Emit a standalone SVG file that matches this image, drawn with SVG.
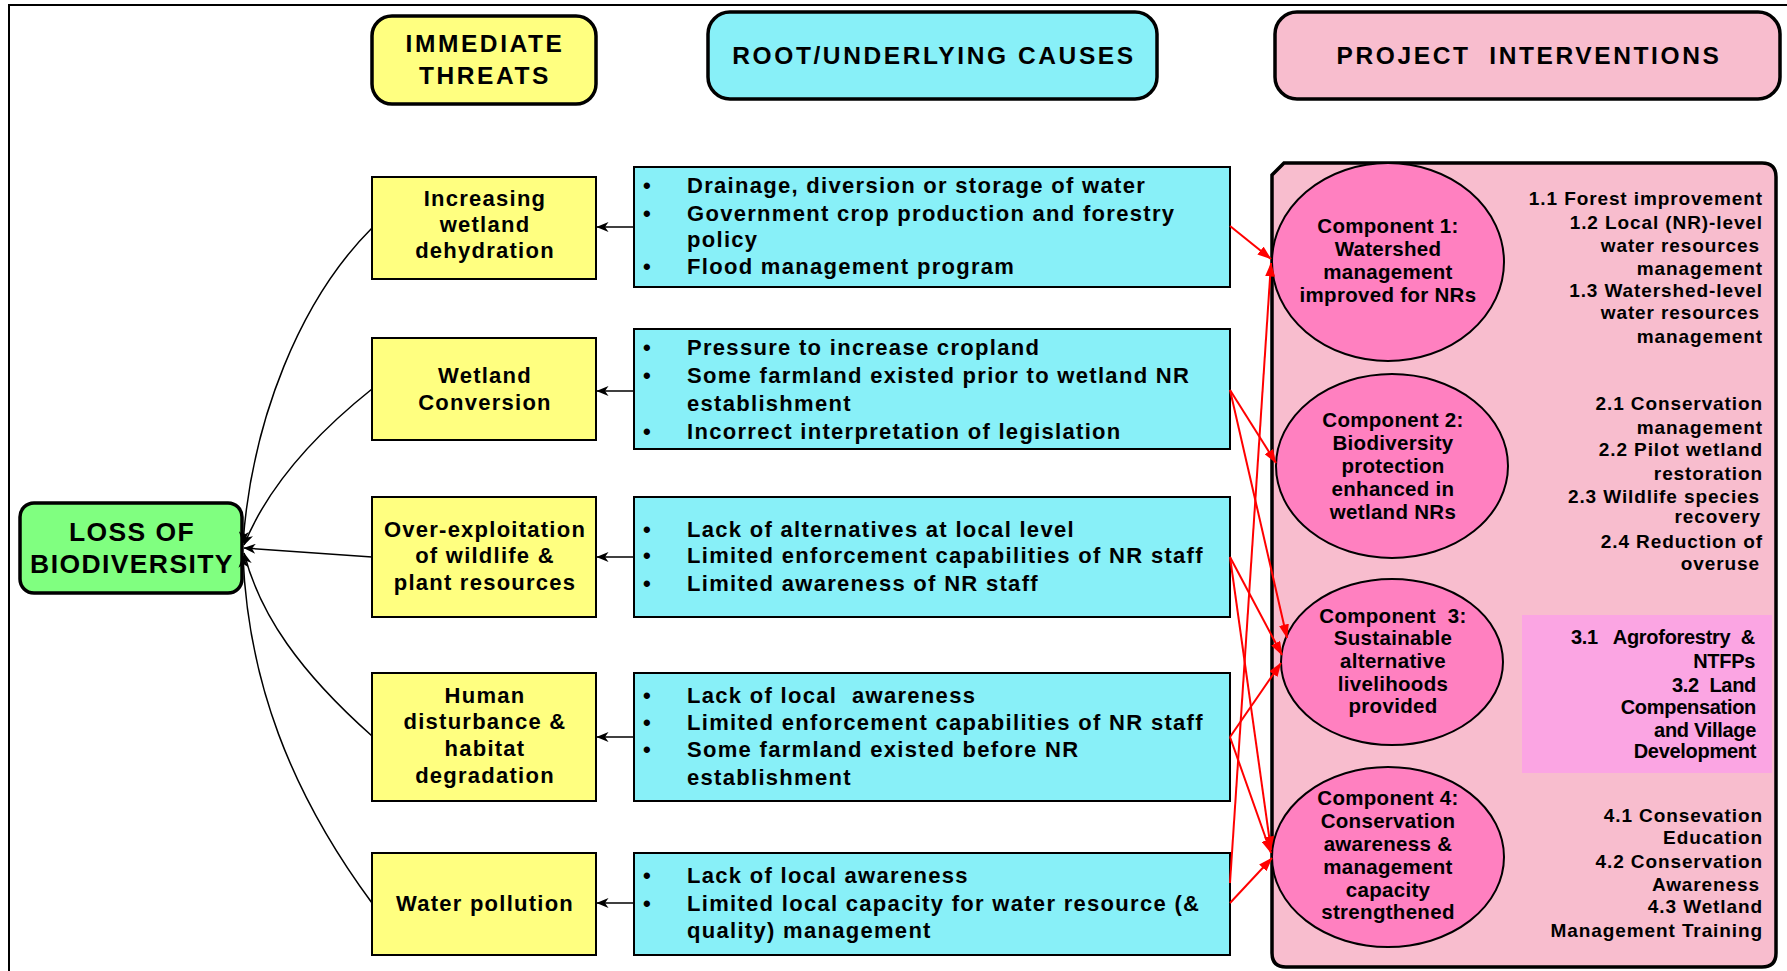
<svg xmlns="http://www.w3.org/2000/svg" width="1787" height="971" viewBox="0 0 1787 971">
<defs>
<style>
text{font-family:'Liberation Sans',Arial,Helvetica,sans-serif;font-weight:bold;fill:#000}
.hd{font-size:24.5px;letter-spacing:2.6px;text-anchor:middle}
.ls{font-size:26.5px;letter-spacing:1.4px;text-anchor:middle}
.yt{font-size:22px;letter-spacing:1.25px;text-anchor:middle}
.ct{font-size:22px;letter-spacing:1.3px}
.et{font-size:20.5px;letter-spacing:0.3px;text-anchor:middle}
.rt{font-size:19px;letter-spacing:0.9px;text-anchor:end}
.r3{font-size:20px;letter-spacing:-0.3px;text-anchor:end}
.ybox{fill:#FFFF80;stroke:#000;stroke-width:2}
.cbox{fill:#88F0F8;stroke:#000;stroke-width:2}
.ell{fill:#FF80C0;stroke:#000;stroke-width:2}
.blk{fill:none;stroke:#000;stroke-width:1.5;marker-end:url(#ab)}
.red{fill:none;stroke:#FF0000;stroke-width:2;marker-end:url(#ar)}
</style>
<marker id="ab" viewBox="0 0 12 10" refX="11.5" refY="5" markerWidth="12" markerHeight="10" markerUnits="userSpaceOnUse" orient="auto"><path d="M0,0 L12,5 L0,10 L3.5,5 Z" fill="#000"/></marker>
<marker id="ar" viewBox="0 0 14 10" refX="13.5" refY="5" markerWidth="14" markerHeight="10" markerUnits="userSpaceOnUse" orient="auto"><path d="M0,0 L14,5 L0,10 Z" fill="#FF0000"/></marker>
</defs>
<rect x="0" y="0" width="1787" height="971" fill="#FFFFFF"/>
<rect x="9" y="5" width="1800" height="1000" fill="none" stroke="#000" stroke-width="2"/>

<g id="hdr-threats">
<rect x="372" y="16" width="224" height="88" rx="20" fill="#FFFF80" stroke="#000" stroke-width="3.5"/>
<text class="hd" x="485" y="52">IMMEDIATE</text>
<text class="hd" x="485" y="84">THREATS</text>
</g>
<g id="hdr-causes">
<rect x="708" y="12" width="449" height="87" rx="22" fill="#88F0F8" stroke="#000" stroke-width="3.5"/>
<text class="hd" x="934" y="64">ROOT/UNDERLYING CAUSES</text>
</g>
<g id="hdr-interventions">
<rect x="1275" y="12" width="505" height="87" rx="22" fill="#F8BDCE" stroke="#000" stroke-width="3.5"/>
<text class="hd" x="1529" y="64" xml:space="preserve">PROJECT  INTERVENTIONS</text>
</g>

<g id="loss">
<rect x="20" y="503" width="222" height="90" rx="14" fill="#80FF80" stroke="#000" stroke-width="3.5"/>
<text class="ls" x="132" y="541">LOSS OF</text>
<text class="ls" x="132" y="573">BIODIVERSITY</text>
</g>

<g id="threat1">
<rect class="ybox" x="372" y="177" width="224" height="102"/>
<text class="yt" x="485" y="206">Increasing</text>
<text class="yt" x="485" y="232">wetland</text>
<text class="yt" x="485" y="258">dehydration</text>
</g>
<g id="threat2">
<rect class="ybox" x="372" y="338" width="224" height="102"/>
<text class="yt" x="485" y="383">Wetland</text>
<text class="yt" x="485" y="410">Conversion</text>
</g>
<g id="threat3">
<rect class="ybox" x="372" y="497" width="224" height="120"/>
<text class="yt" x="485" y="537">Over-exploitation</text>
<text class="yt" x="485" y="563">of wildlife &amp;</text>
<text class="yt" x="485" y="590">plant resources</text>
</g>
<g id="threat4">
<rect class="ybox" x="372" y="673" width="224" height="128"/>
<text class="yt" x="485" y="703">Human</text>
<text class="yt" x="485" y="729">disturbance &amp;</text>
<text class="yt" x="485" y="756">habitat</text>
<text class="yt" x="485" y="783">degradation</text>
</g>
<g id="threat5">
<rect class="ybox" x="372" y="853" width="224" height="102"/>
<text class="yt" x="485" y="911">Water pollution</text>
</g>

<g id="cause1">
<rect class="cbox" x="634" y="167" width="596" height="120"/>
<text class="ct" x="643" y="193">•</text><text class="ct" x="687" y="193">Drainage, diversion or storage of water</text>
<text class="ct" x="643" y="221">•</text><text class="ct" x="687" y="221">Government crop production and forestry</text>
<text class="ct" x="687" y="247">policy</text>
<text class="ct" x="643" y="274">•</text><text class="ct" x="687" y="274">Flood management program</text>
</g>
<g id="cause2">
<rect class="cbox" x="634" y="329" width="596" height="120"/>
<text class="ct" x="643" y="355">•</text><text class="ct" x="687" y="355">Pressure to increase cropland</text>
<text class="ct" x="643" y="383">•</text><text class="ct" x="687" y="383">Some farmland existed prior to wetland NR</text>
<text class="ct" x="687" y="411">establishment</text>
<text class="ct" x="643" y="439">•</text><text class="ct" x="687" y="439">Incorrect interpretation of legislation</text>
</g>
<g id="cause3">
<rect class="cbox" x="634" y="497" width="596" height="120"/>
<text class="ct" x="643" y="537">•</text><text class="ct" x="687" y="537">Lack of alternatives at local level</text>
<text class="ct" x="643" y="563">•</text><text class="ct" x="687" y="563">Limited enforcement capabilities of NR staff</text>
<text class="ct" x="643" y="591">•</text><text class="ct" x="687" y="591">Limited awareness of NR staff</text>
</g>
<g id="cause4">
<rect class="cbox" x="634" y="673" width="596" height="128"/>
<text class="ct" x="643" y="703">•</text><text class="ct" x="687" y="703" xml:space="preserve">Lack of local  awareness</text>
<text class="ct" x="643" y="730">•</text><text class="ct" x="687" y="730">Limited enforcement capabilities of NR staff</text>
<text class="ct" x="643" y="757">•</text><text class="ct" x="687" y="757">Some farmland existed before NR</text>
<text class="ct" x="687" y="785">establishment</text>
</g>
<g id="cause5">
<rect class="cbox" x="634" y="853" width="596" height="102"/>
<text class="ct" x="643" y="883">•</text><text class="ct" x="687" y="883">Lack of local awareness</text>
<text class="ct" x="643" y="911">•</text><text class="ct" x="687" y="911">Limited local capacity for water resource (&amp;</text>
<text class="ct" x="687" y="938">quality) management</text>
</g>

<g id="panel">
<path d="M1284,163 L1762,163 Q1776,163 1776,177 L1776,953 Q1776,967 1762,967 L1286,967 Q1272,967 1272,953 L1272,175 Z" fill="#F8BDCE" stroke="#000" stroke-width="3.5"/>
<rect x="1522" y="615" width="250" height="158" fill="#FBA5E3"/>
</g>

<g id="comp1">
<ellipse class="ell" cx="1388" cy="262" rx="116" ry="99"/>
<text class="et" x="1388" y="233">Component 1:</text>
<text class="et" x="1388" y="256">Watershed</text>
<text class="et" x="1388" y="279">management</text>
<text class="et" x="1388" y="302">improved for NRs</text>
</g>
<g id="comp2">
<ellipse class="ell" cx="1392" cy="466" rx="116" ry="92"/>
<text class="et" x="1393" y="427">Component 2:</text>
<text class="et" x="1393" y="450">Biodiversity</text>
<text class="et" x="1393" y="473">protection</text>
<text class="et" x="1393" y="496">enhanced in</text>
<text class="et" x="1393" y="519">wetland NRs</text>
</g>
<g id="comp3">
<ellipse class="ell" cx="1392" cy="662" rx="111" ry="83"/>
<text class="et" x="1393" y="623" xml:space="preserve">Component  3:</text>
<text class="et" x="1393" y="645">Sustainable</text>
<text class="et" x="1393" y="668">alternative</text>
<text class="et" x="1393" y="691">livelihoods</text>
<text class="et" x="1393" y="713">provided</text>
</g>
<g id="comp4">
<ellipse class="ell" cx="1388" cy="857" rx="116" ry="90"/>
<text class="et" x="1388" y="805">Component 4:</text>
<text class="et" x="1388" y="828">Conservation</text>
<text class="et" x="1388" y="851">awareness &amp;</text>
<text class="et" x="1388" y="874">management</text>
<text class="et" x="1388" y="897">capacity</text>
<text class="et" x="1388" y="919">strengthened</text>
</g>

<g id="outputs1">
<text class="rt" x="1763" y="205">1.1 Forest improvement</text>
<text class="rt" x="1763" y="229">1.2 Local (NR)-level</text>
<text class="rt" x="1760" y="252">water resources</text>
<text class="rt" x="1763" y="275">management</text>
<text class="rt" x="1763" y="297">1.3 Watershed-level</text>
<text class="rt" x="1760" y="319">water resources</text>
<text class="rt" x="1763" y="343">management</text>
</g>
<g id="outputs2">
<text class="rt" x="1763" y="410">2.1 Conservation</text>
<text class="rt" x="1763" y="434">management</text>
<text class="rt" x="1763" y="456">2.2 Pilot wetland</text>
<text class="rt" x="1763" y="480">restoration</text>
<text class="rt" x="1760" y="503">2.3 Wildlife species</text>
<text class="rt" x="1761" y="523">recovery</text>
<text class="rt" x="1763" y="548">2.4 Reduction of</text>
<text class="rt" x="1760" y="570">overuse</text>
</g>
<g id="outputs3">
<text class="r3" x="1755" y="644" xml:space="preserve">3.1   Agroforestry  &amp;</text>
<text class="r3" x="1755" y="668">NTFPs</text>
<text class="r3" x="1756" y="692" xml:space="preserve">3.2  Land</text>
<text class="r3" x="1756" y="714">Compensation</text>
<text class="r3" x="1756" y="737">and Village</text>
<text class="r3" x="1756" y="758">Development</text>
</g>
<g id="outputs4">
<text class="rt" x="1763" y="822">4.1 Consevation</text>
<text class="rt" x="1763" y="844">Education</text>
<text class="rt" x="1763" y="868">4.2 Conservation</text>
<text class="rt" x="1760" y="891">Awareness</text>
<text class="rt" x="1763" y="913">4.3 Wetland</text>
<text class="rt" x="1763" y="937">Management Training</text>
</g>

<g id="connectors">
<line class="blk" x1="634" y1="227" x2="597" y2="227"/>
<line class="blk" x1="634" y1="391" x2="597" y2="391"/>
<line class="blk" x1="634" y1="557" x2="597" y2="557"/>
<line class="blk" x1="634" y1="737" x2="597" y2="737"/>
<line class="blk" x1="634" y1="903" x2="597" y2="903"/>
<path class="blk" d="M372,228 C300,300 252,420 243,543"/>
<path class="blk" d="M372,389 C318,432 268,486 244,545"/>
<path class="blk" d="M372,557 L244,548"/>
<path class="blk" d="M372,736 C300,672 260,615 244,553"/>
<path class="blk" d="M372,903 C290,792 248,680 243,556"/>
<line class="red" x1="1230" y1="226" x2="1271" y2="259"/>
<line class="red" x1="1230" y1="883" x2="1271" y2="263"/>
<line class="red" x1="1230" y1="390" x2="1276" y2="463"/>
<line class="red" x1="1230" y1="390" x2="1287" y2="638"/>
<line class="red" x1="1230" y1="557" x2="1282" y2="655"/>
<line class="red" x1="1230" y1="557" x2="1271" y2="850"/>
<line class="red" x1="1230" y1="737" x2="1281" y2="663"/>
<line class="red" x1="1230" y1="737" x2="1271" y2="853"/>
<line class="red" x1="1230" y1="903" x2="1272" y2="858"/>
</g>
</svg>
